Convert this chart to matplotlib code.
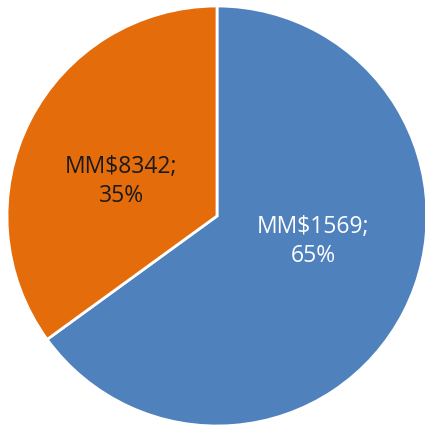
import matplotlib.pyplot as plt

# slice data (clockwise from 12 o'clock)
amounts = ["MM\\$1569", "MM\\$8342"]
shares = [65, 35]
colors = ["#4F81BD", "#E46C0A"]
text_colors = ["white", "#1a1a1a"]

# label anchors inside the pie, in radius units
label_pos = [(0.457, -0.117), (-0.455, 0.169)]

fig = plt.figure(figsize=(4.25, 4.31), dpi=100)
ax = fig.add_axes([7 / 425, 4 / 431, 420 / 425, 420 / 431])

wedges, _ = ax.pie(
    shares,
    colors=colors,
    startangle=90,
    counterclock=False,
    radius=1.0,
    wedgeprops={"edgecolor": "white", "linewidth": 2},
)

for (x, y), amt, pct, tc in zip(label_pos, amounts, shares, text_colors):
    ax.text(x, y, f"{amt};\n{pct}%", ha="center", va="center",
            color=tc, fontsize=16.5, family="Open Sans",
            linespacing=1.25)

ax.set_xlim(-1, 1)
ax.set_ylim(-1, 1)
ax.set_aspect("equal")
ax.axis("off")

fig.savefig("out.png", dpi=100)
